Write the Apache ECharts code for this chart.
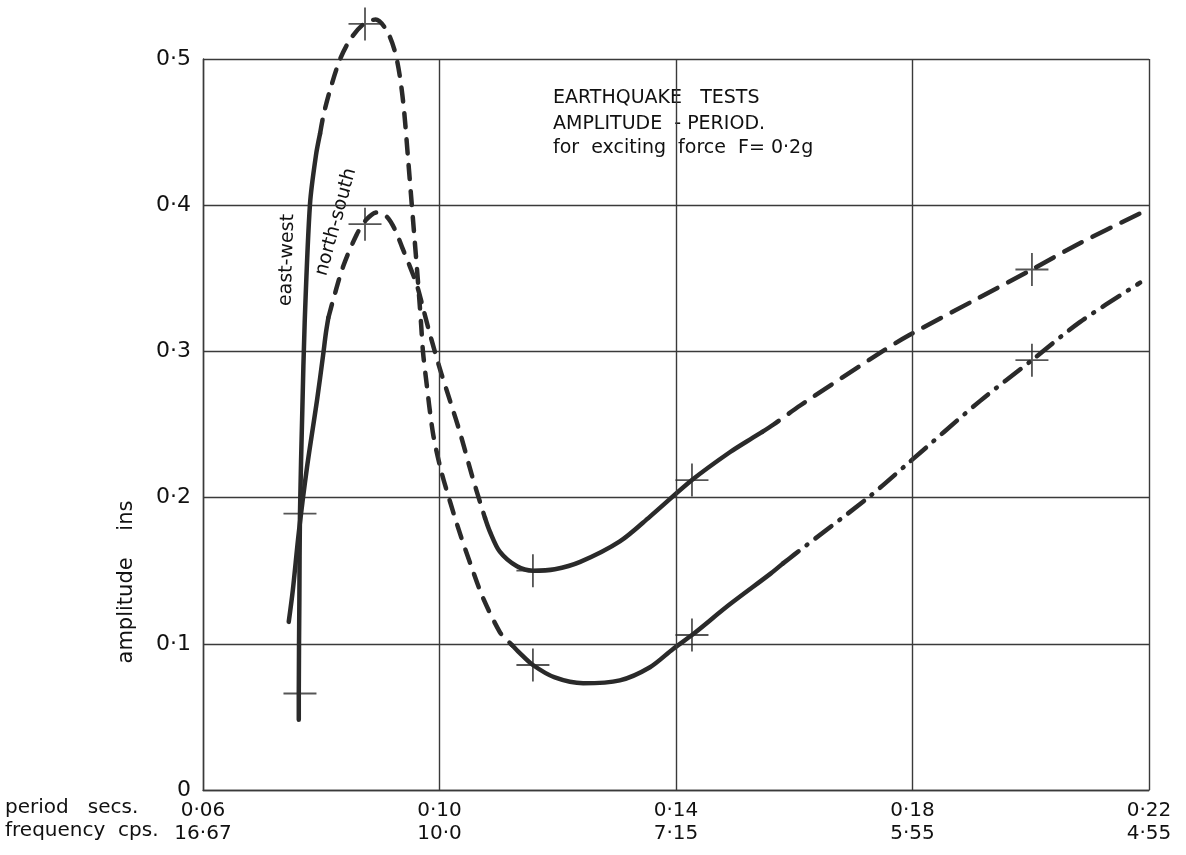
<!DOCTYPE html>
<html>
<head>
<meta charset="utf-8">
<script src="https://cdn.jsdelivr.net/npm/echarts@6/dist/echarts.min.js"></script>
<style>
  html, body { margin: 0; padding: 0; background: #ffffff; }
  #chart { width: 1186px; height: 855px; }
</style>
</head>
<body>
<div id="chart"></div>
<script>
// ---- axis ticks / labels ----
const periodTicks = [0.06, 0.10, 0.14, 0.18, 0.22];
const periodLabels = ['0·06', '0·10', '0·14', '0·18', '0·22'];
const freqLabels = ['16·67', '10·0', '7·15', '5·55', '4·55'];
const ampTicks = [0, 0.1, 0.2, 0.3, 0.4, 0.5];
const ampLabels = ['0', '0·1', '0·2', '0·3', '0·4', '0·5'];

// ---- east-west curve (period secs, amplitude ins), split by drawn style ----
const ewSolidA = [[0.0762,0.048],[0.0762,0.066],[0.0763,0.130],[0.0764,0.189],[0.0768,0.260],[0.0772,0.320],[0.0781,0.401],[0.0791,0.434],[0.0798,0.449]];
const ewDashB = [[0.0798,0.449],[0.0804,0.462],[0.0815,0.479],[0.0832,0.500],[0.0850,0.514],[0.0872,0.524],[0.0892,0.527],[0.0910,0.520],[0.0924,0.506],[0.0933,0.488],[0.0940,0.465],[0.0947,0.431],[0.0953,0.401],[0.0958,0.376],[0.0962,0.356],[0.0966,0.335],[0.0969,0.318],[0.0972,0.300],[0.0977,0.282],[0.0989,0.244],[0.1003,0.218],[0.1018,0.197],[0.1035,0.175],[0.1052,0.155],[0.1074,0.131],[0.1102,0.108],[0.1113,0.103],[0.1123,0.099]];
const ewSolidC = [[0.1123,0.099],[0.1135,0.094],[0.1158,0.0855],[0.1195,0.077],[0.1243,0.073],[0.1305,0.075],[0.1356,0.084],[0.1395,0.0965],[0.1427,0.106],[0.1491,0.127],[0.1560,0.148],[0.1581,0.155]];
const ewDashDotD = [[0.1581,0.155],[0.1600,0.161],[0.1725,0.200],[0.1794,0.224],[0.1914,0.266],[0.2002,0.294],[0.2083,0.320],[0.2185,0.347]];

// ---- north-south curve ----
const nsSolidA = [[0.0745,0.115],[0.0752,0.137],[0.0762,0.176],[0.0776,0.221],[0.0793,0.267],[0.0803,0.297],[0.0808,0.313],[0.0812,0.323]];
const nsDashB = [[0.0812,0.323],[0.0820,0.335],[0.0837,0.358],[0.0860,0.380],[0.0876,0.390],[0.0894,0.395],[0.0911,0.392],[0.0925,0.383],[0.0937,0.371],[0.0950,0.358],[0.0962,0.345],[0.0972,0.330],[0.0981,0.316],[0.0992,0.300],[0.1003,0.285],[0.1018,0.266],[0.1035,0.244],[0.1055,0.215],[0.1070,0.195],[0.1077,0.186]];
const nsSolidC = [[0.1077,0.186],[0.1085,0.177],[0.1102,0.163],[0.1131,0.153],[0.1158,0.150],[0.1195,0.151],[0.1238,0.156],[0.1305,0.170],[0.1356,0.187],[0.1427,0.212],[0.1491,0.231],[0.1530,0.241],[0.1546,0.245]];
const nsDashD = [[0.1546,0.245],[0.1565,0.250],[0.1610,0.263],[0.1749,0.300],[0.1794,0.311],[0.1914,0.337],[0.2002,0.356],[0.2083,0.374],[0.2188,0.395]];

// ---- measured points (+ marks) ----
const testPoints = [[0.0764,0.066],[0.0764,0.189],[0.0874,0.524],[0.0874,0.387],[0.1158,0.150],[0.1158,0.0855],[0.1427,0.212],[0.1427,0.106],[0.2002,0.356],[0.2002,0.294]];

const INK = '#2a2a2a';
const GRID = '#3a3a3a';
const FONT = 'DejaVu Sans';
const PLUS = 'path://M-0.055,-1 L0.055,-1 L0.055,-0.055 L1,-0.055 L1,0.055 L0.055,0.055 L0.055,1 L-0.055,1 L-0.055,0.055 L-1,0.055 L-1,-0.055 L-0.055,-0.055 Z';

function idxOf(arr, v) {
  for (let i = 0; i < arr.length; i++) if (Math.abs(arr[i] - v) < 1e-6) return i;
  return -1;
}

function seg(name, data, dash) {
  return {
    type: 'line', name: name, data: data, smooth: 0.3,
    symbol: 'none', showSymbol: false, clip: false, silent: true, z: 3,
    lineStyle: { color: INK, width: 4.5, type: dash, cap: 'round', join: 'round' }
  };
}

const chart = echarts.init(document.getElementById('chart'), null, { renderer: 'canvas' });

const option = {
  backgroundColor: '#ffffff',
  animation: false,
  grid: { left: 203, right: 37, top: 59, bottom: 65, containLabel: false },
  xAxis: {
    type: 'value', min: 0.06, max: 0.22, interval: 0.02,
    axisLine: { show: true, lineStyle: { color: GRID, width: 1.4 } },
    axisTick: { show: false },
    splitLine: { show: false },
    axisLabel: {
      margin: 9,
      formatter: function (v) {
        const i = idxOf(periodTicks, v);
        return i < 0 ? '' : '{p|' + periodLabels[i] + '}\n{f|' + freqLabels[i] + '}';
      },
      rich: {
        p: { fontFamily: FONT, fontSize: 20, lineHeight: 23, color: '#111' },
        f: { fontFamily: FONT, fontSize: 20, lineHeight: 23, color: '#111' }
      }
    }
  },
  yAxis: {
    type: 'value', min: 0, max: 0.5, interval: 0.1,
    axisLine: { show: true, lineStyle: { color: GRID, width: 1.4 } },
    axisTick: { show: false },
    splitLine: { show: true, lineStyle: { color: GRID, width: 1.4 } },
    axisLabel: {
      margin: 12, fontFamily: FONT, fontSize: 22, color: '#111',
      formatter: function (v) {
        const i = idxOf(ampTicks, v);
        return i < 0 ? '' : ampLabels[i];
      }
    }
  },
  graphic: [
    { type: 'text', left: 5, top: 798, style: { text: 'period   secs.', font: '20px "DejaVu Sans"', fill: '#111' } },
    { type: 'text', left: 5, top: 821, style: { text: 'frequency  cps.', font: '20px "DejaVu Sans"', fill: '#111' } },
    { type: 'text', x: 127, y: 582, rotation: Math.PI / 2,
      style: { text: 'amplitude    ins', font: '21px "DejaVu Sans"', fill: '#111', align: 'center', verticalAlign: 'middle' } },
    { type: 'text', left: 553, top: 89, style: { text: 'EARTHQUAKE   TESTS', font: '19px "DejaVu Sans"', fill: '#111' } },
    { type: 'text', left: 553, top: 115, style: { text: 'AMPLITUDE  - PERIOD.', font: '19px "DejaVu Sans"', fill: '#111' } },
    { type: 'text', left: 553, top: 139, style: { text: 'for  exciting  force  F= 0·2g', font: '19px "DejaVu Sans"', fill: '#111' } },
    { type: 'text', x: 287, y: 260, rotation: Math.PI / 2 - 0.03,
      style: { text: 'east-west', font: '19px "DejaVu Sans"', fill: '#111', align: 'center', verticalAlign: 'middle' } },
    { type: 'text', x: 336, y: 222, rotation: 1.3,
      style: { text: 'north-south', font: '19px "DejaVu Sans"', fill: '#111', align: 'center', verticalAlign: 'middle' } }
  ],
  series: [
    seg('east-west', ewSolidA, 'solid'),
    seg('east-west', ewDashB, [14, 12]),
    seg('east-west', ewSolidC, 'solid'),
    seg('east-west', ewDashDotD, [20, 10, 1, 10]),
    seg('north-south', nsSolidA, 'solid'),
    seg('north-south', nsDashB, [14, 12]),
    seg('north-south', nsSolidC, 'solid'),
    seg('north-south', nsDashD, [20, 12]),
    {
      type: 'scatter', name: 'tests', data: testPoints, clip: false, silent: true, z: 5,
      symbol: PLUS, symbolSize: 33, itemStyle: { color: INK },
      markLine: {
        silent: true, symbol: ['none', 'none'], label: { show: false },
        lineStyle: { type: 'solid', color: GRID, width: 1.4 },
        data: periodTicks.map(function (v) { return { xAxis: v }; })
      }
    }
  ]
};

chart.setOption(option);
</script>
</body>
</html>
